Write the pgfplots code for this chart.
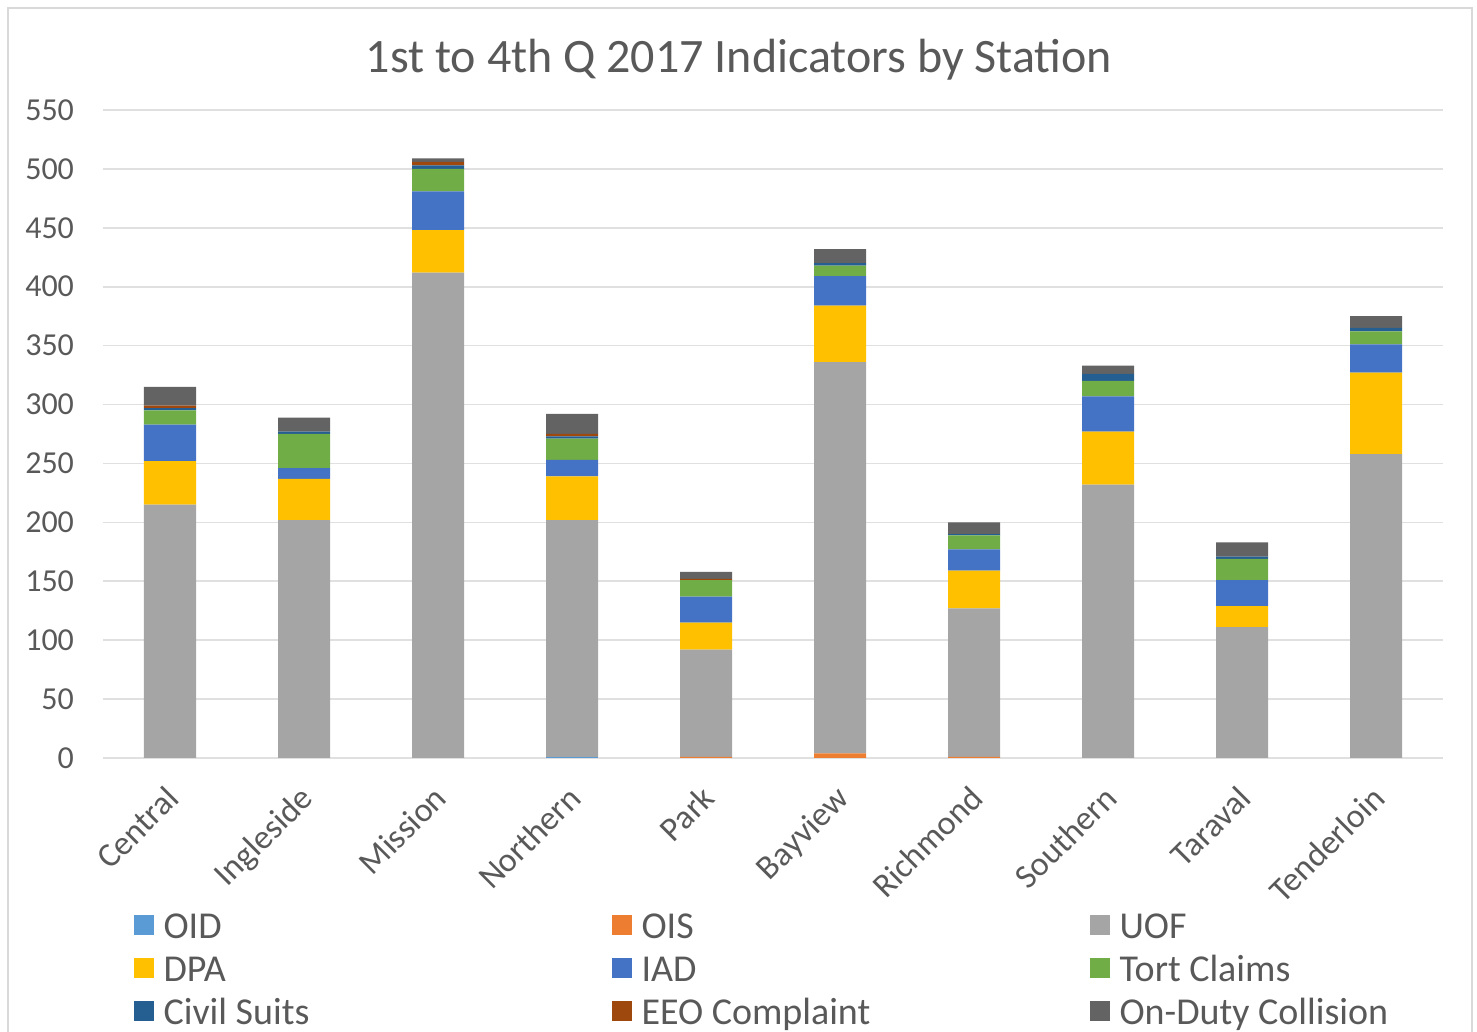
\documentclass[border=0pt]{standalone}
\usepackage{pgfplots}
\pgfplotsset{compat=1.18}
\usepackage{pgfplotstable}
\usepackage{fontspec}
\setmainfont{Carlito}
\definecolor{txt}{RGB}{89,89,89}
\definecolor{cOID}{HTML}{5B9BD5}
\definecolor{cOIS}{HTML}{ED7D31}
\definecolor{cUOF}{HTML}{A5A5A5}
\definecolor{cDPA}{HTML}{FFC000}
\definecolor{cIAD}{HTML}{4472C4}
\definecolor{cTort}{HTML}{70AD47}
\definecolor{cCivil}{HTML}{255E91}
\definecolor{cEEO}{HTML}{9E480E}
\definecolor{cColl}{HTML}{636363}
\pgfplotstableread{
x OID OIS UOF DPA IAD Tort Civil EEO Coll
0 0 0 215 37 31 12 2 2 16
1 0 0 202 35 9 29 2 0 12
2 0 0 412 36 33 19 3 3 3
3 1 0 201 37 14 18 2 2 17
4 0 1 91 23 22 14 0 1 6
5 0 4 332 48 25 9 2 0 12
6 0 1 126 32 18 12 1 0 10
7 0 0 232 45 30 13 6 0 7
8 0 0 111 18 22 18 2 0 12
9 0 0 258 69 24 11 3 0 10
}\data
\newcommand{\legent}[1]{\makebox[227pt][l]{\hspace{4pt}#1}}
\begin{document}
\begin{tikzpicture}
\useasboundingbox (0,0) rectangle (738.5pt,516pt);
\draw[black!15, line width=1.2pt] (4pt,-5pt) -- (4pt,512pt) -- (736pt,512pt) -- (736pt,-5pt);
\node[font=\fontsize{24}{28}\selectfont, text=txt] at (369.5pt,486pt) {1st to 4th Q 2017 Indicators by Station};
\begin{axis}[
  at={(51.5pt,137pt)}, anchor=south west,
  width=670pt, height=324pt, scale only axis,
  ybar stacked, bar width=26pt,
  xmin=-0.5, xmax=9.5, ymin=0, ymax=550,
  ytick={0,50,...,550},
  xtick={0,...,9},
  xticklabels={Central,Ingleside,Mission,Northern,Park,Bayview,Richmond,Southern,Taraval,Tenderloin},
  xticklabel style={xshift=-3pt, yshift=-8pt, rotate=45, anchor=north east, font=\fontsize{17}{21}\selectfont, text=txt},
  yticklabel style={font=\fontsize{16}{19}\selectfont, text=txt, xshift=-11pt},
  /pgf/number format/assume math mode=true,
  ymajorgrids, grid style={draw=black!12, line width=0.8pt},
  axis line style={draw=none},
  major tick length=0pt,
  legend columns=3,
  legend style={at={(0.0225,-0.232)}, anchor=north west, draw=none, fill=none, inner sep=0pt,
    font=\fontsize{19}{23}\selectfont, text=txt,
    nodes={inner sep=1pt, text height=14pt, text depth=5.5pt},
    /tikz/every even column/.append style={column sep=0pt}},
  legend cell align=left,
  legend image code/.code={\fill[#1] (0pt,-2.5pt) rectangle (10pt,7.5pt);},
]
\addplot[fill=cOID, draw=none] table[x=x, y=OID] {\data};
\addplot[fill=cOIS, draw=none] table[x=x, y=OIS] {\data};
\addplot[fill=cUOF, draw=none] table[x=x, y=UOF] {\data};
\addplot[fill=cDPA, draw=none] table[x=x, y=DPA] {\data};
\addplot[fill=cIAD, draw=none] table[x=x, y=IAD] {\data};
\addplot[fill=cTort, draw=none] table[x=x, y=Tort] {\data};
\addplot[fill=cCivil, draw=none] table[x=x, y=Civil] {\data};
\addplot[fill=cEEO, draw=none] table[x=x, y=EEO] {\data};
\addplot[fill=cColl, draw=none] table[x=x, y=Coll] {\data};
\legend{\legent{OID},\legent{OIS},\hspace{4pt}UOF,
        \legent{DPA},\legent{IAD},\hspace{4pt}Tort Claims,
        \legent{Civil Suits},\legent{EEO Complaint},\hspace{4pt}On-Duty Collision}
\end{axis}
\end{tikzpicture}
\end{document}
